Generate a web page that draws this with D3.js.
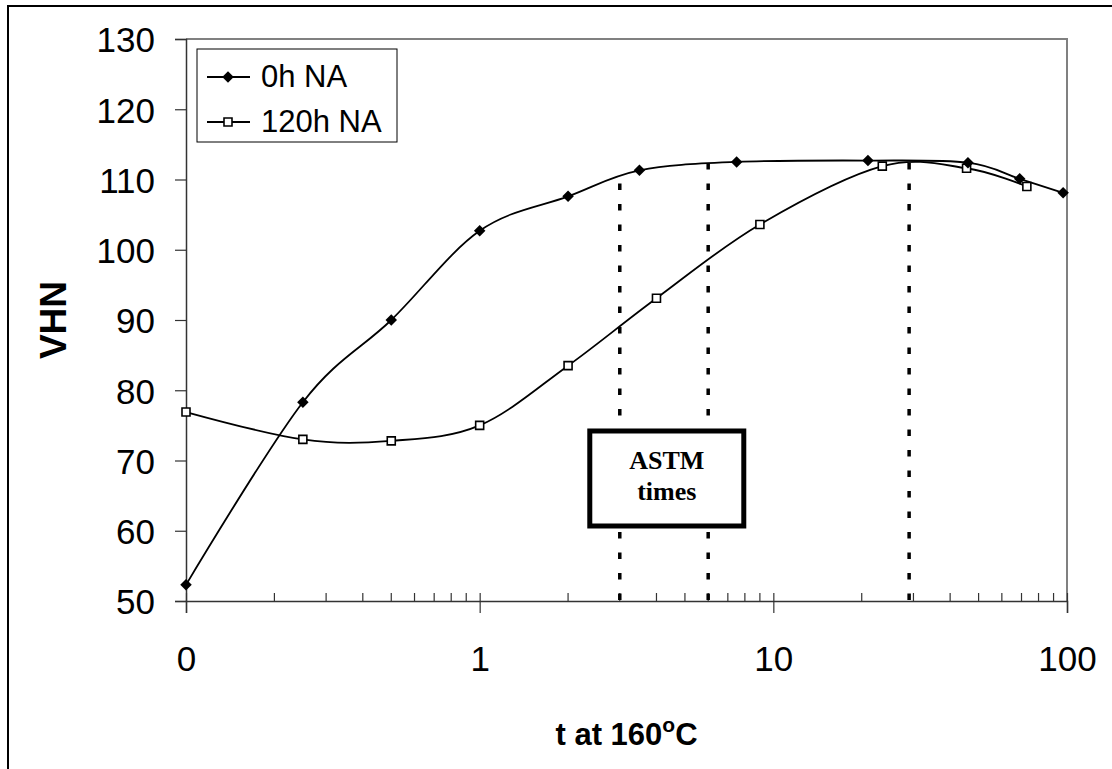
<!DOCTYPE html>
<html>
<head>
<meta charset="utf-8">
<script src="https://cdn.jsdelivr.net/npm/d3@7"></script>
<style>
  body { margin: 0; background: #fff; }
  svg { display: block; font-family: "Liberation Sans", Arial, sans-serif; }
</style>
</head>
<body>
<div id="chart"></div>
<script>
// ageing time in hours at 160C ("0" is plotted at 0.1 on the log axis)
const times0h = [0.1, 0.25, 0.5, 1, 2, 3.5, 7.5, 21, 46, 69, 97];
const vhn0h = [52.3, 78.3, 90.0, 102.7, 107.6, 111.3, 112.5, 112.7, 112.4, 110.1, 108.1];
const times120h = [0.1, 0.25, 0.5, 1, 2, 4, 9, 23.5, 45.5, 73];
const vhn120h = [76.9, 73.0, 72.8, 75.0, 83.5, 93.1, 103.6, 111.9, 111.6, 109.0];
const seriesNames = ["0h NA", "120h NA"];

// ASTM reference times (dotted lines)
const astmTimes = [3, 6, 29];
const astmTops = [110.5, 112.3, 112.4];

const xTicks = [0.1, 1, 10, 100];
const xTickLabels = ["0", "1", "10", "100"];
const yTicks = [50, 60, 70, 80, 90, 100, 110, 120, 130];

const W = 1112, H = 769;
const margin = {top: 39, left: 186, right: 45, bottom: 168};
const width = W - margin.left - margin.right,
    height = H - margin.top - margin.bottom;

const svg = d3.select("#chart")
    .append("svg")
    .attr("width", W)
    .attr("height", H);

svg.append("rect")
    .attr("width", W).attr("height", H)
    .attr("fill", "#fff");

// outer frame (only top and left edges are inside the picture)
svg.append("path")
    .attr("d", `M8,${H} V6 H${W}`)
    .attr("fill", "none")
    .attr("stroke", "#000")
    .attr("stroke-width", 2);

const g = svg.append("g")
    .attr("transform", `translate(${margin.left},${margin.top})`);

const x = d3.scaleLog().domain([0.1, 100]).range([0, width]);
const y = d3.scaleLinear().domain([50, 130]).range([height, 0]);

// plot area border, top and right
g.append("path")
    .attr("d", `M0,0 H${width} V${height}`)
    .attr("fill", "none")
    .attr("stroke", "#808080")
    .attr("stroke-width", 2);

// y axis
const yAxis = g.append("g")
    .call(d3.axisLeft(y).tickValues(yTicks).tickSize(11).tickPadding(20));
yAxis.select(".domain").attr("stroke", "#333").attr("stroke-width", 1.5);
yAxis.selectAll(".tick line").attr("stroke", "#333").attr("stroke-width", 1.2);
yAxis.selectAll("text")
    .attr("font-size", "35px")
    .attr("font-family", "Liberation Sans, Arial, sans-serif")
    .attr("fill", "#000")
    .attr("dy", "0.37em");

// x axis
const xAxis = g.append("g")
    .attr("transform", `translate(0,${height})`)
    .call(d3.axisBottom(x).tickValues(xTicks).tickFormat((d, i) => xTickLabels[i]).tickSize(12));
xAxis.select(".domain").attr("stroke", "#333").attr("stroke-width", 1.5);
xAxis.selectAll(".tick line")
    .attr("y1", -8)
    .attr("stroke", "#333").attr("stroke-width", 1.2);
xAxis.selectAll("text")
    .attr("y", 70)
    .attr("dy", 0)
    .attr("font-size", "35px")
    .attr("font-family", "Liberation Sans, Arial, sans-serif")
    .attr("fill", "#000");

// minor ticks pointing up into the plot
const minor = x.ticks().filter(d => !xTicks.some(t => Math.abs(t - d) < 1e-9));
g.append("g").selectAll("line")
    .data(minor)
    .join("line")
    .attr("x1", d => x(d)).attr("x2", d => x(d))
    .attr("y1", height).attr("y2", height - 8)
    .attr("stroke", "#333")
    .attr("stroke-width", 1.2);

// axis titles
svg.append("text")
    .attr("transform", `translate(66,${margin.top + height / 2}) rotate(-90)`)
    .attr("text-anchor", "middle")
    .attr("font-size", "37px")
    .attr("font-weight", "bold")
    .text("VHN");

const xTitle = svg.append("text")
    .attr("x", margin.left + width / 2)
    .attr("y", 745)
    .attr("text-anchor", "middle")
    .attr("font-size", "31px")
    .attr("font-weight", "bold");
xTitle.append("tspan").text("t at 160");
xTitle.append("tspan").attr("font-size", "21px").attr("dy", -13).text("o");
xTitle.append("tspan").attr("dy", 13).text("C");

// dotted ASTM lines
g.append("g").selectAll("line")
    .data(astmTimes)
    .join("line")
    .attr("x1", d => x(d)).attr("x2", d => x(d))
    .attr("y1", height - 1)
    .attr("y2", (d, i) => y(astmTops[i]))
    .attr("stroke", "#000")
    .attr("stroke-width", 3.5)
    .attr("stroke-dasharray", "6.5 14");

// ASTM label box
const boxX = x(astmTimes[0]) - 30, boxY = y(74.2);
const box = g.append("g");
box.append("rect")
    .attr("x", boxX).attr("y", boxY)
    .attr("width", 154).attr("height", 95)
    .attr("fill", "#fff")
    .attr("stroke", "#000")
    .attr("stroke-width", 5);
box.selectAll("text")
    .data(["ASTM", "times"])
    .join("text")
    .attr("x", boxX + 77)
    .attr("y", (d, i) => boxY + 38 + i * 31)
    .attr("text-anchor", "middle")
    .attr("font-family", "Liberation Serif, Times New Roman, serif")
    .attr("font-weight", "bold")
    .attr("font-size", "26px")
    .text(d => d);

// series
const line = d3.line()
    .x(d => x(d[0]))
    .y(d => y(d[1]))
    .curve(d3.curveCardinal.tension(0));

const data0h = times0h.map((t, i) => [t, vhn0h[i]]);
const data120h = times120h.map((t, i) => [t, vhn120h[i]]);

const diamond = d3.symbol().type(d3.symbolSquare).size(66);
const square = d3.symbol().type(d3.symbolSquare).size(64);

[data120h, data0h].forEach(dat => {
    g.append("path")
        .attr("d", line(dat))
        .attr("fill", "none")
        .attr("stroke", "#000")
        .attr("stroke-width", 1.8);
});

g.append("g").selectAll("path")
    .data(data120h)
    .join("path")
    .attr("d", square)
    .attr("transform", d => `translate(${x(d[0])},${y(d[1])})`)
    .attr("fill", "#fff")
    .attr("stroke", "#000")
    .attr("stroke-width", 1.6);

g.append("g").selectAll("path")
    .data(data0h)
    .join("path")
    .attr("d", diamond)
    .attr("transform", d => `translate(${x(d[0])},${y(d[1])}) rotate(45)`)
    .attr("fill", "#000");

// legend
const legend = svg.append("g").attr("transform", "translate(197,49)");
legend.append("rect")
    .attr("width", 200).attr("height", 93)
    .attr("fill", "#fff")
    .attr("stroke", "#000")
    .attr("stroke-width", 1);

seriesNames.forEach((name, i) => {
    const row = legend.append("g").attr("transform", `translate(0,${28 + i * 45})`);
    row.append("line")
        .attr("x1", 10).attr("x2", 53)
        .attr("stroke", "#000").attr("stroke-width", 1.8);
    row.append("path")
        .attr("d", i === 0 ? diamond : square)
        .attr("transform", `translate(31,0)` + (i === 0 ? " rotate(45)" : ""))
        .attr("fill", i === 0 ? "#000" : "#fff")
        .attr("stroke", i === 0 ? "none" : "#000")
        .attr("stroke-width", 1.6);
    row.append("text")
        .attr("x", 64)
        .attr("y", 10)
        .attr("font-size", "31px")
        .text(name);
});
</script>
</body>
</html>
